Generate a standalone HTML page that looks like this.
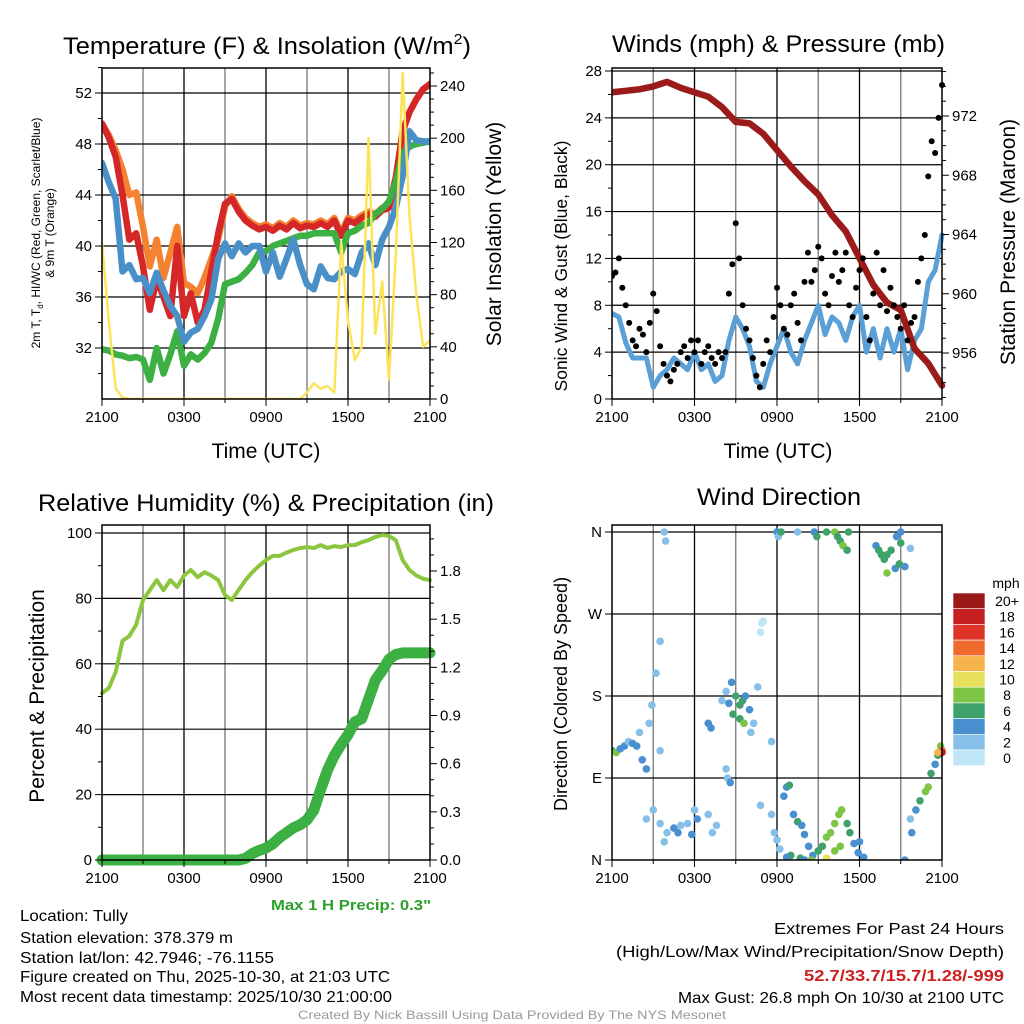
<!DOCTYPE html>
<html><head><meta charset="utf-8">
<style>
html,body{margin:0;padding:0;background:#fff;}
svg{display:block;font-family:"Liberation Sans",sans-serif;}
</style></head>
<body>
<svg id="fig" width="1024" height="1024" viewBox="0 0 1024 1024" xmlns="http://www.w3.org/2000/svg">
<rect width="1024" height="1024" fill="#fff"/>
<g id="p1"></g>
<g id="p2"></g>
<g id="p3"></g>
<g id="p4"></g>

<text x="63" y="54" font-size="24" textLength="408" lengthAdjust="spacingAndGlyphs">Temperature (F) &amp; Insolation (W/m<tspan font-size="15" dy="-10">2</tspan><tspan dy="10">)</tspan></text>
<text x="612" y="52" font-size="24" textLength="333" lengthAdjust="spacingAndGlyphs">Winds (mph) &amp; Pressure (mb)</text>
<text x="38" y="511" font-size="24" textLength="456" lengthAdjust="spacingAndGlyphs">Relative Humidity (%) &amp; Precipitation (in)</text>
<text x="697" y="505" font-size="24" textLength="164" lengthAdjust="spacingAndGlyphs">Wind Direction</text>

<g font-size="12" text-anchor="middle">
<text transform="translate(40,233) rotate(-90)">2m T, T<tspan font-size="8" dy="3">d</tspan><tspan dy="-3">, HI/WC (Red, Green, Scarlet/Blue)</tspan></text>
<text transform="translate(54,233) rotate(-90)">&amp; 9m T (Orange)</text>
</g>
<text transform="translate(501,234) rotate(-90)" font-size="21" text-anchor="middle">Solar Insolation (Yellow)</text>
<text transform="translate(567,266) rotate(-90)" font-size="17.5" text-anchor="middle">Sonic Wind &amp; Gust (Blue, Black)</text>
<text transform="translate(1015,242) rotate(-90)" font-size="21" text-anchor="middle">Station Pressure (Maroon)</text>
<text transform="translate(44,696) rotate(-90)" font-size="21" text-anchor="middle">Percent &amp; Precipitation</text>
<text transform="translate(567,694) rotate(-90)" font-size="18" text-anchor="middle">Direction (Colored By Speed)</text>
<text x="266" y="458" font-size="21" text-anchor="middle">Time (UTC)</text>
<text x="778" y="458" font-size="21" text-anchor="middle">Time (UTC)</text>

<text x="431" y="910" font-size="15" font-weight="bold" fill="#2ca02c" text-anchor="end" textLength="160" lengthAdjust="spacingAndGlyphs">Max 1 H Precip: 0.3"</text>
<g font-size="16">
<text x="20" y="921" textLength="108" lengthAdjust="spacingAndGlyphs">Location: Tully</text>
<text x="20" y="943" textLength="213" lengthAdjust="spacingAndGlyphs">Station elevation: 378.379 m</text>
<text x="20" y="963" textLength="254" lengthAdjust="spacingAndGlyphs">Station lat/lon: 42.7946; -76.1155</text>
<text x="20" y="982" textLength="370" lengthAdjust="spacingAndGlyphs">Figure created on Thu, 2025-10-30, at 21:03 UTC</text>
<text x="20" y="1002" textLength="372" lengthAdjust="spacingAndGlyphs">Most recent data timestamp: 2025/10/30 21:00:00</text>
</g>
<g font-size="16" text-anchor="end">
<text x="1004" y="934" textLength="230" lengthAdjust="spacingAndGlyphs">Extremes For Past 24 Hours</text>
<text x="1004" y="957" textLength="388" lengthAdjust="spacingAndGlyphs">(High/Low/Max Wind/Precipitation/Snow Depth)</text>
<text x="1004" y="981" fill="#cc2020" font-weight="bold" textLength="200" lengthAdjust="spacingAndGlyphs">52.7/33.7/15.7/1.28/-999</text>
<text x="1004" y="1003" textLength="326" lengthAdjust="spacingAndGlyphs">Max Gust: 26.8 mph On 10/30 at 2100 UTC</text>
</g>
<text x="512" y="1019" font-size="12" fill="#999" text-anchor="middle" textLength="428" lengthAdjust="spacingAndGlyphs">Created By Nick Bassill Using Data Provided By The NYS Mesonet</text>

<g id="legend"></g>
</svg>
<script>
// ---------- data (half-hourly from 2100 UTC, 49 values) ----------
const timeLabels = ["2100","0300","0900","1500","2100"];
const tempRed = [49.6,48.5,47,44,40.5,41,38.4,35,37.4,36,34.5,40,34.5,36.3,34,35,38,41,43.3,43.7,42.7,42,41.6,41.3,41.5,41.2,41.6,41.3,41.8,41.4,41.6,41.5,41.8,41.5,42,40.8,42,41.8,42.2,42.5,42.3,42.8,43,45.3,49,50.5,51.5,52.3,52.7];
const temp9m = [49.6,48.7,47.5,46,44,44.2,41.5,38.4,40.5,37.5,39.5,41.5,37.1,36.8,36.3,37.5,39,40.5,43.1,43.9,42.9,42.2,41.8,41.5,41.7,41.4,41.8,41.5,42,41.6,41.8,41.7,42,41.7,42.2,41,42.2,42,42.4,42.7,42.5,43,43.2,45.4,49,50.5,51.5,52.3,52.7];
const windChill = [46.5,45,43.7,38,38.5,37.4,37.5,36.3,37.9,36.5,35.3,34.5,32.5,33.2,33.5,34.5,35.8,39,40.2,39.2,40.2,39.5,40,40,38,39.5,37.6,39,40.5,38.5,37,36.6,38.4,37.5,37.4,38,38.2,37.8,39.5,40.2,38.5,40.5,41.5,43,45.5,49,48.3,48.2,48.2];
const dewPoint = [31.9,31.8,31.5,31.4,31.2,31.3,31.1,29.5,32,30,31.5,33.3,30.6,31.5,31.1,31.6,32.4,34.3,37,37.2,37.4,37.9,38.5,39.5,39.6,40,40.2,40.4,40.6,40.8,40.8,41,41,41,41,39.5,41,41.2,41.6,41.8,42.5,42.9,43.5,45,47.3,47.8,48,48.1,48.2];
const solar = [120,60,8,1,0,0,0,0,0,0,0,0,0,0,0,0,0,0,0,0,0,0,0,0,0,0,0,0,0,0,5,12,8,10,5,120,60,30,40,200,50,90,15,110,250,140,80,40,45];
// winds (half-hourly)
const sonicWind = [7.3,7,4.8,3.5,3.5,3.5,1,2,2.5,3.5,3,2.5,4,2.5,3,1.5,2,5,7,6,4.5,1.5,1,3,4.5,6,4,3,5,6.5,8,5.5,7,6.5,5,7,8,4,6,3.5,6,4,6,2.5,5,6,10,11,14];
// gusts (every 15 minutes, 97 values)
const gusts = [10.5,10.8,12,9.5,8,6.5,5,4.5,6, 5.5,4,6.5,9,7.5,4.5,3,2, 1.5,2.5,3,4,4.5,3.5,5,4, 5,3,4,4.5,3.5,3,4,3.5, 4,9,11.5,15,12,8,6,5, 3.5,2,1,3,5,4,7,9.5, 8,6,5.5,8,9,6.5,5,10, 12.5,10,11,13,12,9,8,10.5, 12.5,10,11,12.5,8,7,9.5,11, 12,7,5,9,12.5,8,11,7.5, 9.5,8,7,6,8,5,6.5,7, 10,12,14,19,22,21,24,26.8];
// pressure (hourly, 25 values)
const pressure = [973.6,973.7,973.8,974.0,974.3,973.9,973.6,973.3,972.6,971.6,971.5,970.8,969.7,968.6,967.6,966.7,965.3,964.2,962.4,960.6,959.4,958.9,956.3,955.3,953.8];
// humidity (half-hourly)
const relHum = [51,52.6,57.5,67,68.5,72,79.5,82.5,85.6,82.5,85.6,83.5,87,88.7,86.5,88,87,85.6,81,79.5,82.6,85.6,88,90,91.7,93,93,94,94.8,95.4,95.7,95.4,96.3,95.4,96,95.7,96.3,96.3,97.2,97.8,98.8,99.4,99.1,97.8,91.7,88.7,87,86,85.6];
const precip = [0,0,0,0,0,0,0,0,0,0,0,0,0,0,0,0,0,0,0,0,0,0.01,0.04,0.06,0.075,0.1,0.14,0.17,0.2,0.22,0.25,0.31,0.44,0.56,0.65,0.72,0.78,0.86,0.88,1.0,1.12,1.18,1.25,1.28,1.29,1.29,1.29,1.29,1.29];
// wind direction points
const dirHours = [0,0.3,0.6,0.9,1.2,1.5,1.8,2.2,2.5, 2.5,3,3.5,4,4.5,5,5.5,6,6.2,7,7.3,7.6,5.8,4.8,3.8, 2.7,2.9,3.2,3.5,2,3.5, 3.8,3.9, 7,7.2,8,8.3,8.7,9,9.3,9.5,9.7,9.3,9.6,8.8,8.5,10,10.3,10.6,10.1, 8.3,8.4,8.6, 10.8,10.9,11, 10.8,11.6,11.6,12,12.2,11.8, 12.5,12.7,12.9,13.2,13.5,13.8,14,14.3,14.6,13,12.7,13.7,14,14.5, 15,15.3,15.6,15.9,16.2,16.5,16.7,17.1,17.3,17.6,17.9,18.3,16.2,16.6,18,15.6, 12,12.1,12.3,13.5,14.7,14.9,15.6,16.2,16.4,16.6,16.8,17.1,17.2, 19.2,19.4,19.6,19.8,20,20.3,20.6,20.9,21.3,20,20.7,21,21.7,21, 21.3,21.7,21.8,22.1,22.4,22.8,23,23.2,23.5,23.7,23.9,24,24,23.9,24,23.7];
const dirValues = [120,118,122,125,130,128,125,110,100, 45,55,40,30,35,38,40,55,45,50,30,38,28,30,20, 150,170,205,240,140,120, 360,350, 150,145,175,185,195,180,170,175,180,155,150,160,172,165,150,190,140, 100,90,85, 250,260,262, 60,130,50,22,12,30, 70,80,82,50,42,38,28,15,5,5,3,2,0,0, 10,15,25,30,40,50,55,40,30,18,8,3,10,15,20,2, 360,355,360,360,360,355,360,360,355,350,345,340,360, 345,340,335,330,335,340,320,325,322,315,355,360,342,348, 0,45,30,55,65,75,80,95,105,115,125,120,120,118,118,118];
const dirSpeeds = [6,7,4,4,2,4,4,4,4, 2,1,2,2,3,2,2,2,3,2,2,2,3,3,1, 1,1,1,1,2,2, 2,2, 4,4,2,2,4,6,6,6,4,6,8,6,4,4,2,1,2, 2,2,3, 0,0,0, 1,1,1,2,2,2, 4,4,6,4,6,4,4,4,4,6,4,6,4,8, 6,6,8,8,8,8,8,6,6,4,4,4,8,8,4,10, 4,2,6,2,4,6,6,8,6,6,8,6,6, 4,6,6,6,6,6,4,6,4,8,4,4,2,6, 4,2,4,4,6,8,8,6,4,6,8,12,14,16,18,12];
const speedLevels = ["20+","18","16","14","12","10","8","6","4","2","0"];

// ---------- helpers ----------
const NS="http://www.w3.org/2000/svg";
function mk(tag, parent, attrs){const e=document.createElementNS(NS,tag);for(const k in attrs)e.setAttribute(k,attrs[k]);parent.appendChild(e);return e;}
function lin(d0,d1,r0,r1){return v=>r0+(v-d0)*(r1-r0)/(d1-d0);}

function frame(g, L, T, R, B, x, yl, yr, opts){
  for(let h=3;h<24;h+=3){
    const gl=mk('line',g,{x1:x(h),x2:x(h),y1:T,y2:B,stroke:(h%6===0)?'#000':'#777','stroke-width':1.3});
    
    
  }
  opts.hgrid.forEach(v=>{
    const gl=mk('line',g,{x1:L,x2:R,y1:yl(v),y2:yl(v),stroke:'#000','stroke-width':1.2});
    
    
  });
}
function axes(g,L,T,R,B,x,yl,yr,opts){
  mk('rect',g,{x:L,y:T,width:R-L,height:B-T,fill:'none',stroke:'#000','stroke-width':1.5});
  for(let h=0;h<=24;h+=3){mk('line',g,{x1:x(h),x2:x(h),y1:B,y2:B+(h%6===0?7:4),stroke:'#000'});}
  timeLabels.forEach((t,i)=>{
    const tx=mk('text',g,{x:x(i*6),y:B+23,'font-size':15,'text-anchor':'middle'});
    tx.textContent=t;
    
    
  });
  opts.lticks.forEach(([v,lab])=>{
    mk('line',g,{x1:L-(lab!==''?7:4),x2:L,y1:yl(v),y2:yl(v),stroke:'#000'});
    if(lab!==''){const tx=mk('text',g,{x:L-10,y:yl(v)+5,'font-size':15,'text-anchor':'end'});tx.textContent=lab;
      
      }
  });
  if(yr) opts.rticks.forEach(([v,lab])=>{
    mk('line',g,{x1:R,x2:R+(lab!==''?7:4),y1:yr(v),y2:yr(v),stroke:'#000'});
    if(lab!==''){const tx=mk('text',g,{x:R+10,y:yr(v)+5,'font-size':15,'text-anchor':'start'});tx.textContent=lab;
      
      }
  });
}
function line(g,arr,step,x,y,color,w,name){
  const pts=arr.map((v,i)=>x(i*step).toFixed(1)+','+y(v).toFixed(1)).join(' ');
  const p=mk('polyline',g,{points:pts,fill:'none',stroke:color,'stroke-width':w,'stroke-linejoin':'round','stroke-linecap':'round'});
  
  
  return p;
}
function clipFor(g,id,L,T,R,B){
  const c=mk('clipPath',g,{id:id});mk('rect',c,{x:L,y:T,width:R-L,height:B-T});
  const cg=mk('g',g,{'clip-path':'url(#'+id+')'});return cg;
}

// ---------- panel 1 ----------
(function(){
  const g=document.getElementById('p1');const L=102,T=68,R=430,B=399;
  const x=lin(0,24,L,R), yl=lin(32,52,348,93), yr=lin(0,240,399,86);
  frame(g,L,T,R,B,x,yl,yr,{hgrid:[32,36,40,44,48,52]});
  const cg=clipFor(g,'c1',L,T,R,B);
  line(cg,temp9m,0.5,x,yl,'#f58231',6.5,'9m-temperature-line');
  line(cg,tempRed,0.5,x,yl,'#d62728',6.5,'2m-temperature-line');
  line(cg,dewPoint,0.5,x,yl,'#3cb043',6.5,'dewpoint-line');
  line(cg,windChill,0.5,x,yl,'#4a90c8',6.5,'wind-chill-line');
  line(cg,solar,0.5,x,yr,'#fde35a',2.5,'solar-insolation-line');
  const lt=[];for(let v=30;v<=54;v+=2)lt.push([v,v%4===0&&v>=32&&v<=52?String(v):'']);
  const rt=[];for(let v=0;v<=250;v+=10)rt.push([v,v%40===0&&v<=240?String(v):'']);
  axes(g,L,T,R,B,x,yl,yr,{lticks:lt,rticks:rt});
})();

// ---------- panel 2 ----------
(function(){
  const g=document.getElementById('p2');const L=612,T=68,R=942,B=399;
  const x=lin(0,24,L,R), yl=lin(0,28,399,71), yr=lin(956,972,353,116);
  frame(g,L,T,R,B,x,yl,yr,{hgrid:[4,8,12,16,20,24,28]});
  const cg=clipFor(g,'c2',L,T-4,R+4,B+4);
  line(cg,sonicWind,0.5,x,yl,'#5a9fd6',5,'sonic-wind-line');
  line(cg,pressure,1,x,yr,'#9b1b1b',6.5,'pressure-line');
  gusts.forEach((v,i)=>{
    const c=mk('circle',cg,{cx:x(i*0.25),cy:yl(v),r:3,fill:'#000'});
    
    
  });
  const lt=[];for(let v=0;v<=28;v+=2)lt.push([v,v%4===0?String(v):'']);
  const rt=[];for(let v=953;v<=975;v+=1)rt.push([v,v%4===0&&v>=956&&v<=972?String(v):'']);
  axes(g,L,T,R,B,x,yl,yr,{lticks:lt,rticks:rt});
})();

// ---------- panel 3 ----------
(function(){
  const g=document.getElementById('p3');const L=102,T=525,R=430,B=860;
  const x=lin(0,24,L,R), yl=lin(0,100,860,533), yr=lin(0,1.8,860,571);
  frame(g,L,T,R,B,x,yl,yr,{hgrid:[20,40,60,80,100]});
  const cg=clipFor(g,'c3',L-8,T,R+8,B+8);
  line(cg,relHum,0.5,x,yl,'#8cc63f',4,'relative-humidity-line');
  line(cg,precip,0.5,x,yr,'#3cb043',11,'precipitation-line');
  const lt=[];for(let v=0;v<=100;v+=10)lt.push([v,v%20===0?String(v):'']);
  const rt=[];for(let v=0;v<=2.05;v+=0.1)rt.push([v,Math.round(v*10)%3===0&&v<1.85?v.toFixed(1):'']);
  axes(g,L,T,R,B,x,yl,yr,{lticks:lt,rticks:rt});
})();

// ---------- panel 4 ----------
const speedColors=['#bfe6f7','#86c0e8','#4a8fcf','#3fa26b','#7dc645','#e6e05a','#f6b24b','#f06a2e','#e03328','#c51f22','#9a1a1a'];
function colorFor(s){return speedColors[Math.min(10,Math.max(0,Math.round(s/2)))];}
(function(){
  const g=document.getElementById('p4');const L=612,T=525,R=942,B=860;
  const x=lin(0,24,L,R), yl=lin(0,360,860,532);
  frame(g,L,T,R,B,x,yl,null,{hgrid:[90,180,270,360]});
  const cg=clipFor(g,'c4',L,T,R+4,B);
  dirHours.forEach((h,i)=>{
    const c=mk('circle',cg,{cx:x(h),cy:yl(dirValues[i]),r:3.8,fill:colorFor(dirSpeeds[i])});
    
    
  });
  const lt=[[0,'N'],[90,'E'],[180,'S'],[270,'W'],[360,'N']];
  axes(g,L,T,R,B,x,yl,null,{lticks:lt,rticks:[]});
  const lg=document.getElementById('legend');
  const t=mk('text',lg,{x:1006,y:588,'font-size':14,'text-anchor':'middle'});t.textContent='mph';
  speedLevels.forEach((lab,i)=>{
    const y=593+i*15.7;
    const r=mk('rect',lg,{x:953,y:y,width:32,height:15.7,fill:speedColors[10-i],stroke:'#fff','stroke-width':0.6});
    
    
    const tx=mk('text',lg,{x:1007,y:y+13,'font-size':14,'text-anchor':'middle'});tx.textContent=lab;
    
    
  });
})();
</script>
</body></html>
